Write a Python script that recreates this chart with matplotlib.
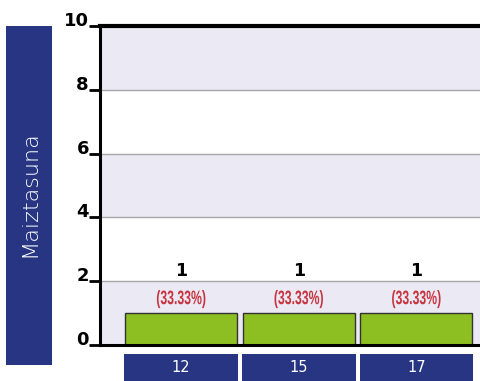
import matplotlib.pyplot as plt
from matplotlib.patches import Rectangle, PathPatch
from matplotlib.textpath import TextPath
from matplotlib.font_manager import FontProperties
from matplotlib.transforms import ScaledTranslation, Affine2D

categories = ['12', '15', '17']
counts = [1, 1, 1]
percents = ['(33.33%)', '(33.33%)', '(33.33%)']
y_label = 'Maiztasuna'
y_ticks = [0, 2, 4, 6, 8, 10]

navy = '#283583'
band = '#EAE9F4'

fig = plt.figure(figsize=(4.81, 3.81), dpi=100)
ax = fig.add_axes([100 / 481, 1 - 345 / 381, 381 / 481, 319 / 381])

# alternating bands
for i in range(0, 10, 4):
    ax.axhspan(i, i + 2, color=band, zorder=0, lw=0)
for y in y_ticks[1:-1]:
    ax.axhline(y, color='#A8A8A8', lw=1, zorder=1)

x = list(range(len(categories)))
ax.bar(x, counts, width=0.95, color='#8DBE22', edgecolor='#333333', linewidth=1, zorder=2)

# condensed look for the percentage labels: squeeze a text path horizontally
fp = FontProperties(family='Liberation Sans', weight='bold', size=14)
for i, (c, p) in enumerate(zip(counts, percents)):
    ax.text(i, c + 1.32, str(c), ha='center', va='center', fontsize=12.5,
            fontweight='bold', color='black')
    tp = TextPath((0, 0), p, prop=fp)
    bb = tp.get_extents()
    tr = (Affine2D().translate(-(bb.x0 + bb.x1) / 2, -(bb.y0 + bb.y1) / 2).scale(0.63 / 72, 1 / 72)
          + fig.dpi_scale_trans + ScaledTranslation(i, c + 0.44, ax.transData))
    ax.add_patch(PathPatch(tp, transform=tr, facecolor='#C8343F', edgecolor='none', zorder=3))

# category boxes under the axis
for i, cat in enumerate(categories):
    r = Rectangle((i - 0.483, -0.113), 0.966, 0.085, transform=ax.get_xaxis_transform(),
                  facecolor=navy, edgecolor='none', clip_on=False)
    ax.add_patch(r)
    ax.text(i, -0.07, cat, transform=ax.get_xaxis_transform(), ha='center', va='center',
            color='white', fontsize=10.5)

ax.set_xlim(-0.69, 2.55)
ax.set_ylim(0, 10)
ax.set_yticks(y_ticks)
ax.set_yticklabels([str(t) for t in y_ticks], fontsize=13, fontweight='bold')
ax.set_xticks([])
ax.tick_params(axis='y', length=8, width=2, pad=0)
shift = ScaledTranslation(0, 5 / 72, fig.dpi_scale_trans)
for lab in ax.get_yticklabels():
    lab.set_transform(lab.get_transform() + shift)
for s in ['left', 'bottom']:
    ax.spines[s].set_linewidth(2.2)
ax.spines['top'].set_linewidth(3)
ax.spines['right'].set_visible(False)

# y label box
fig.patches.append(Rectangle((6 / 481, 1 - 365 / 381), 46 / 481, 339 / 381,
                             transform=fig.transFigure, facecolor=navy, edgecolor='none'))
fig.text(29 / 481, 1 - 194 / 381, y_label, rotation=90, ha='center', va='center',
         color='white', fontsize=16, fontweight='light')

fig.savefig('out.png', dpi=100)
